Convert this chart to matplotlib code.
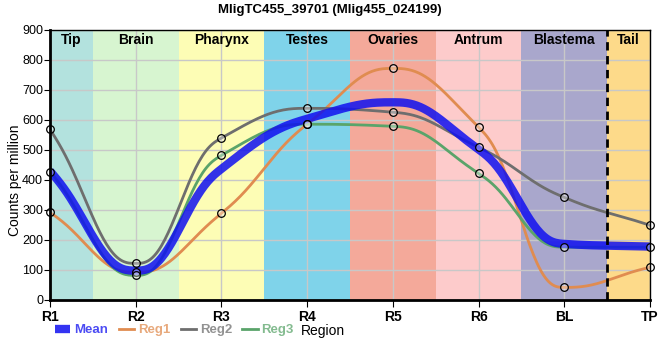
import numpy as np
import matplotlib
matplotlib.use("Agg")
import matplotlib.pyplot as plt
from matplotlib.lines import Line2D

plt.rcParams["font.family"] = ["Liberation Sans", "DejaVu Sans"]

# Data
positions = ["R1", "R2", "R3", "R4", "R5", "R6", "BL", "TP"]
reg1 = [292, 92, 289, 586, 772, 576, 42, 109]
reg2 = [569, 122, 540, 639, 626, 509, 342, 249]
reg3 = [428, 82, 482, 586, 579, 422, 176, 176]
mean = [430, 98, 437, 604, 659, 502, 187, 178]

regions = ["Tip", "Brain", "Pharynx", "Testes", "Ovaries", "Antrum", "Blastema", "Tail"]
region_colors = ["#b3e2de", "#d7f5d0", "#fdfdb5", "#7fd3ea", "#f4a99a",
                 "#fdcbcb", "#a9a7cc", "#fdda8a"]
region_edges = [0, 0.5, 1.5, 2.5, 3.5, 4.5, 5.5, 6.5, 7]


def smooth(y, n=50):
    # monotone slopes (Fritsch-Carlson), quintic hermite segments -> flat plateaus
    y = np.asarray(y, float)
    x = np.arange(len(y), dtype=float)
    d = np.diff(y)
    m = np.zeros_like(y)
    for i in range(1, len(y) - 1):
        if d[i - 1] * d[i] > 0:
            m[i] = 2 / (1 / d[i - 1] + 1 / d[i])
    m[0] = d[0]
    m[-1] = d[-1]
    xs, ys = [], []
    for i in range(len(y) - 1):
        t = np.linspace(0, 1, n, endpoint=False)
        h0 = 1 - 10 * t**3 + 15 * t**4 - 6 * t**5
        h1 = t - 6 * t**3 + 8 * t**4 - 3 * t**5
        h3 = 10 * t**3 - 15 * t**4 + 6 * t**5
        h4 = -4 * t**3 + 7 * t**4 - 3 * t**5
        xs.append(x[i] + t)
        ys.append(h0 * y[i] + h1 * m[i] + h3 * y[i + 1] + h4 * m[i + 1])
    xs.append([x[-1]])
    ys.append([y[-1]])
    return np.concatenate(xs), np.concatenate(ys)


fig = plt.figure(figsize=(6.6, 3.6), dpi=100)
ax = fig.add_axes([50 / 660, 60 / 360, 600 / 660, 270 / 360])

for i, name in enumerate(regions):
    ax.axvspan(region_edges[i], region_edges[i + 1], color=region_colors[i], lw=0, zorder=0)
    ax.text((region_edges[i] + region_edges[i + 1]) / 2, 868, name, ha="center", va="center",
            fontsize=10, fontweight="bold", zorder=5)
ax.axvline(6.5, color="black", ls=(0, (3, 2)), lw=2, zorder=4)

ax.grid(True, color="#c8c8c8", lw=1, zorder=1)
for gl in ax.get_xgridlines() + ax.get_ygridlines():
    gl.set_zorder(1)

series = [(reg1, "#e08c50", "Reg1"), (reg2, "#6e6e6e", "Reg2"), (reg3, "#5aa46a", "Reg3")]
for vals, col, lab in series:
    xs, ys = smooth(vals)
    ax.plot(xs, ys, color=col, lw=2, zorder=3)
xs, ys = smooth(mean)
ax.plot(xs, ys, color="#1010f0", lw=6, alpha=0.85, zorder=3, solid_capstyle="butt")
for vals, col, lab in series:
    ax.plot(range(len(vals)), vals, "o", ms=5.5, mfc=(1, 1, 1, 0.35), mec="black", mew=0.9,
            zorder=6, clip_on=False)

ax.set_xlim(0, 7)
ax.set_ylim(0, 900)
ax.set_xticks(range(len(positions)))
ax.set_xticklabels(positions, fontweight="bold", fontsize=10)
ax.set_yticks(range(0, 901, 100))
ax.tick_params(axis="y", labelsize=9, length=4, pad=1)
ax.tick_params(axis="x", length=5, pad=2)
ax.set_ylabel("Counts per million", fontsize=10)
ax.yaxis.set_label_coords(-0.058, 0.444)
ax.yaxis.label.set_va("center")
ax.set_xlabel("Region", fontsize=10)
ax.xaxis.set_label_coords(0.455, -0.113)
ax.xaxis.label.set_va("center")
ax.spines["left"].set_linewidth(2)
ax.spines["bottom"].set_linewidth(2)
ax.spines["top"].set_linewidth(1)
ax.spines["right"].set_linewidth(1)
for s in ax.spines.values():
    s.set_zorder(7)

fig.text(0.5, 1 - 10 / 360, "MligTC455_39701 (Mlig455_024199)", ha="center", va="center",
         fontsize=9.5, fontweight="bold")

handles = [Line2D([], [], color="#1010f0", lw=6, alpha=0.85, solid_capstyle="butt"),
           Line2D([], [], color="#e08c50", lw=2),
           Line2D([], [], color="#6e6e6e", lw=2),
           Line2D([], [], color="#5aa46a", lw=2)]
leg = fig.legend(handles, ["Mean", "Reg1", "Reg2", "Reg3"], loc="center left",
                 bbox_to_anchor=(55 / 660, 1 - 330 / 360), ncol=4, frameon=False,
                 handlelength=1.15, handletextpad=0.3, columnspacing=0.8,
                 prop={"weight": "bold", "size": 9.5}, labelcolor="linecolor",
                 borderpad=0, borderaxespad=0)
for t in leg.get_texts():
    t.set_alpha(0.75)

fig.savefig("out.png", dpi=100)
